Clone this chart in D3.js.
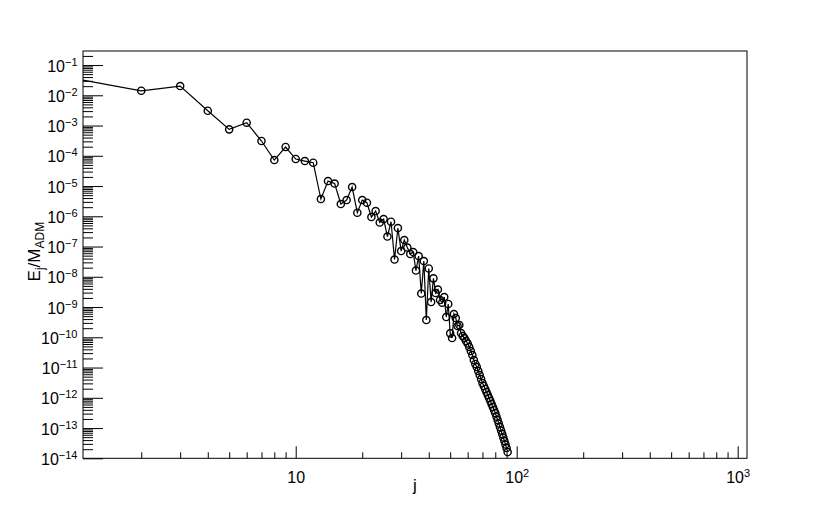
<!DOCTYPE html>
<html>
<head>
<meta charset="utf-8">
<script src="https://cdn.jsdelivr.net/npm/d3@7"></script>
<style>
  html, body { margin: 0; padding: 0; background: #fff; }
  svg text { font-family: "Liberation Sans", Arial, Helvetica, sans-serif !important; }
</style>
</head>
<body>
<svg id="chart" width="830" height="510"></svg>
<script>
// ---- data ----
const jValues = [1,2,3,4,5,6,7,8,9,10,11,12,13,14,15,16,17,18,19,20,
  21,22,23,24,25,26,27,28,29,30,31,32,33,34,35,36,37,38,39,40,
  41,42,43,44,45,46,47,48,49,50,51,52,53,54,55,56,57,58,59,60,
  61,62,63,64,65,66,67,68,69,70,71,72,73,74,75,76,77,78,79,80,
  81,82,83,84,85,86,87,88,89,90,91];
const energyValues = [
  3.58e-2, 1.41e-2, 2.02e-2, 3.08e-3, 7.48e-4, 1.24e-3, 3.08e-4, 7.24e-5, 1.95e-4, 7.82e-5,
  6.70e-5, 5.89e-5, 3.72e-6, 1.46e-5, 1.21e-5, 2.54e-6, 3.44e-6, 9.27e-6, 1.31e-6, 3.44e-6,
  2.81e-6, 9.44e-7, 1.49e-6, 6.21e-7, 8.11e-7, 2.14e-7, 6.60e-7, 3.72e-8, 4.09e-7, 7.10e-8,
  1.64e-7, 9.27e-8, 5.65e-8, 6.58e-8, 1.61e-8, 4.85e-8, 2.79e-9, 3.32e-8, 3.72e-10, 1.88e-8,
  1.46e-9, 8.89e-9, 2.90e-9, 3.79e-9, 1.70e-9, 1.39e-9, 2.14e-9, 4.67e-10, 1.26e-9, 1.35e-10,
  9.44e-11, 5.87e-10, 4.33e-10, 2.35e-10, 2.54e-10, 1.38e-10, 1.10e-10, 9.44e-11, 7.52e-11, 6.21e-11,
  4.76e-11, 3.51e-11, 2.59e-11, 1.77e-11, 1.31e-11, 1.04e-11, 7.66e-12, 5.65e-12, 4.17e-12, 3.08e-12,
  2.45e-12, 1.95e-12, 1.55e-12, 1.23e-12, 9.81e-13, 7.81e-13, 6.21e-13, 4.94e-13, 3.94e-13, 3.13e-13,
  2.40e-13, 1.84e-13, 1.41e-13, 1.08e-13, 8.26e-14, 6.33e-14, 4.85e-14, 3.72e-14, 2.85e-14, 2.18e-14,
  1.61e-14
];
const xMajorExps = [1, 2, 3];
const yMajorExps = [-1,-2,-3,-4,-5,-6,-7,-8,-9,-10,-11,-12,-13,-14];
const xDomain = [1.09, 1102];
const yDomain = [1e-14, 0.291];
const xTitle = "j";

// ---- layout ----
const svg = d3.select("#chart");
const L = 83, R = 747, T = 51, B = 458.3;
const FONT = "'Liberation Sans', Arial, Helvetica, sans-serif";

const x = d3.scaleLog().domain(xDomain).range([L, R]);
const y = d3.scaleLog().domain(yDomain).range([B, T]);

function minorTicks(scale, exps) {
  const out = [];
  const [lo, hi] = scale.domain();
  const eMin = Math.min(...exps) - 1, eMax = Math.max(...exps) + 1;
  for (let e = eMin; e <= eMax; e++) {
    for (let k = 2; k <= 9; k++) {
      const v = k * Math.pow(10, e);
      if (v >= lo && v <= hi) out.push(v);
    }
  }
  return out;
}

const xMajor = xMajorExps.map(e => Math.pow(10, e));
const yMajor = yMajorExps.map(e => Math.pow(10, e));

// minor ticks
svg.append("g")
  .attr("transform", `translate(0,${B})`)
  .call(d3.axisBottom(x).tickValues(minorTicks(x, xMajorExps)).tickSize(-6).tickFormat(""))
  .call(g => g.select(".domain").remove())
  .call(g => g.selectAll("line").attr("stroke", "#000").attr("stroke-width", 1));
svg.append("g")
  .attr("transform", `translate(${L},0)`)
  .call(d3.axisLeft(y).tickValues(minorTicks(y, yMajorExps)).tickSize(-10).tickFormat(""))
  .call(g => g.select(".domain").remove())
  .call(g => g.selectAll("line").attr("stroke", "#000").attr("stroke-width", 1));

// major ticks
const xAxisG = svg.append("g")
  .attr("transform", `translate(0,${B})`)
  .call(d3.axisBottom(x).tickValues(xMajor).tickSize(-12).tickPadding(0).tickFormat(""))
  .call(g => g.select(".domain").remove())
  .call(g => g.selectAll("line").attr("stroke", "#000").attr("stroke-width", 1));
xAxisG.attr("font-family", FONT);
xAxisG.selectAll(".tick").each(function(d, i) {
  const t = d3.select(this).append("text")
    .attr("x", 0).attr("y", 24.5)
    .attr("text-anchor", "middle")
    .attr("fill", "#000")
    .attr("font-family", FONT)
    .attr("font-size", 16);
  const e = xMajorExps[i];
  if (e === 1) {
    t.text("10");
  } else {
    t.append("tspan").text("10");
    t.append("tspan").attr("dy", -6).attr("font-size", 11).text(String(e));
  }
});

const yAxisG = svg.append("g")
  .attr("transform", `translate(${L},0)`)
  .call(d3.axisLeft(y).tickValues(yMajor).tickSize(-20).tickFormat(""))
  .call(g => g.select(".domain").remove())
  .call(g => g.selectAll("line").attr("stroke", "#000").attr("stroke-width", 1));
yAxisG.attr("font-family", FONT);
yAxisG.selectAll(".tick").each(function(d, i) {
  const t = d3.select(this).append("text")
    .attr("x", -5.5).attr("y", 6)
    .attr("text-anchor", "end")
    .attr("fill", "#000")
    .attr("font-family", FONT)
    .attr("font-size", 16);
  t.append("tspan").text("10");
  t.append("tspan").attr("dy", -6).attr("font-size", 11).text("\u2212" + Math.abs(yMajorExps[i]));
});

// frame
svg.append("rect")
  .attr("x", L).attr("y", T).attr("width", R - L).attr("height", B - T)
  .attr("fill", "none").attr("stroke", "#000").attr("stroke-width", 1);

// clip
svg.append("clipPath").attr("id", "clip")
  .append("rect").attr("x", L).attr("y", T).attr("width", R - L).attr("height", B - T);

const pts = jValues.map((j, i) => ({ j, e: energyValues[i] }));
const plot = svg.append("g").attr("clip-path", "url(#clip)");
plot.append("path")
  .datum(pts)
  .attr("fill", "none")
  .attr("stroke", "#000")
  .attr("stroke-width", 1.2)
  .attr("d", d3.line().x(d => x(d.j)).y(d => y(d.e)));
plot.selectAll("circle")
  .data(pts.filter(d => x(d.j) >= L))
  .join("circle")
  .attr("cx", d => x(d.j))
  .attr("cy", d => y(d.e))
  .attr("r", 3.6)
  .attr("fill", "none")
  .attr("stroke", "#000")
  .attr("stroke-width", 1.4);

// titles
svg.append("text")
  .attr("x", (L + R) / 2).attr("y", 491)
  .attr("text-anchor", "middle")
  .attr("font-family", FONT)
  .attr("font-size", 17)
  .text(xTitle);

const yt = svg.append("text")
  .attr("transform", `translate(40,${(T + B) / 2 - 3}) rotate(-90)`)
  .attr("text-anchor", "middle")
  .attr("font-family", FONT)
  .attr("font-size", 17);
yt.append("tspan").text("E");
yt.append("tspan").attr("font-size", 12).attr("dy", 4).text("j");
yt.append("tspan").attr("dy", -4).text("/M");
yt.append("tspan").attr("font-size", 12).attr("dy", 4).text("ADM");
</script>
</body>
</html>
